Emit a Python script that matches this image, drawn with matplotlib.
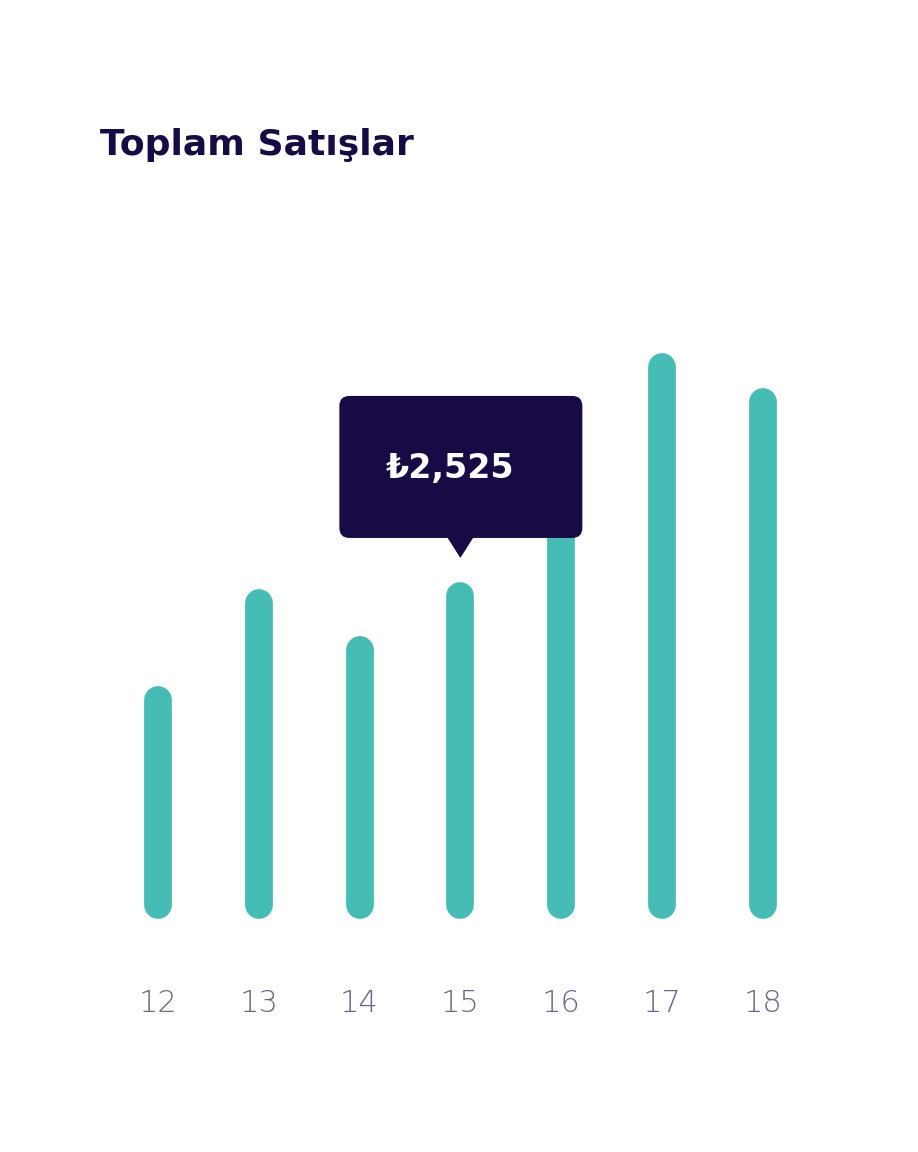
import matplotlib.pyplot as plt
from matplotlib.patches import FancyBboxPatch, Polygon

days = ['12', '13', '14', '15', '16', '17', '18']
sales = [1675, 2468, 2084, 2525, 3150, 4396, 4110]
highlight = 3  # the bar with the tooltip

bar_col = '#45bdb5'
navy = '#170a45'

fig = plt.figure(figsize=(9.18, 11.52), dpi=100)
ax = fig.add_axes([0, 0, 1, 1])
# 1 unit in x ~ 100.8 px, 1 px in y ~ 8.17 value units
px = 8.17
ax.set_xlim(-1.567, 7.54)
ax.set_ylim(-247 * px, (1152 - 247) * px)
ax.axis('off')

x = list(range(len(days)))
ax.vlines(x, 0, sales, color=bar_col, linewidth=20, capstyle='round', zorder=1)

for i, d in enumerate(days):
    ax.text(i, -98 * px, d, ha='center', va='center', fontsize=22,
            color='#6b6585', fontweight='light')

# tooltip
hx = highlight
hy = sales[highlight]
w = 243 / 100.8
bottom = hy + 58 * px
box = FancyBboxPatch((hx - 121 / 100.8, bottom), w, 142 * px,
                     boxstyle='round,pad=0,rounding_size=0.1',
                     mutation_aspect=px * 100.8,
                     facecolor=navy, edgecolor='none', zorder=3)
ax.add_patch(box)
tri = Polygon([[hx - 14 / 100.8, bottom + 2 * px], [hx + 14 / 100.8, bottom + 2 * px],
               [hx, bottom - 20 * px]], closed=True, facecolor=navy,
              edgecolor='none', zorder=3)
ax.add_patch(tri)
ax.text(hx - 10 / 100.8, bottom + 69 * px, '₺{:,}'.format(hy), ha='center', va='center',
        fontsize=24, color='white', fontweight='bold', zorder=4)

fig.text(100 / 918, 1 - 145 / 1152, 'Toplam Satışlar', ha='left', va='center',
         fontsize=26, fontweight='bold', color=navy)

fig.savefig('out.png', dpi=100, facecolor='white')
